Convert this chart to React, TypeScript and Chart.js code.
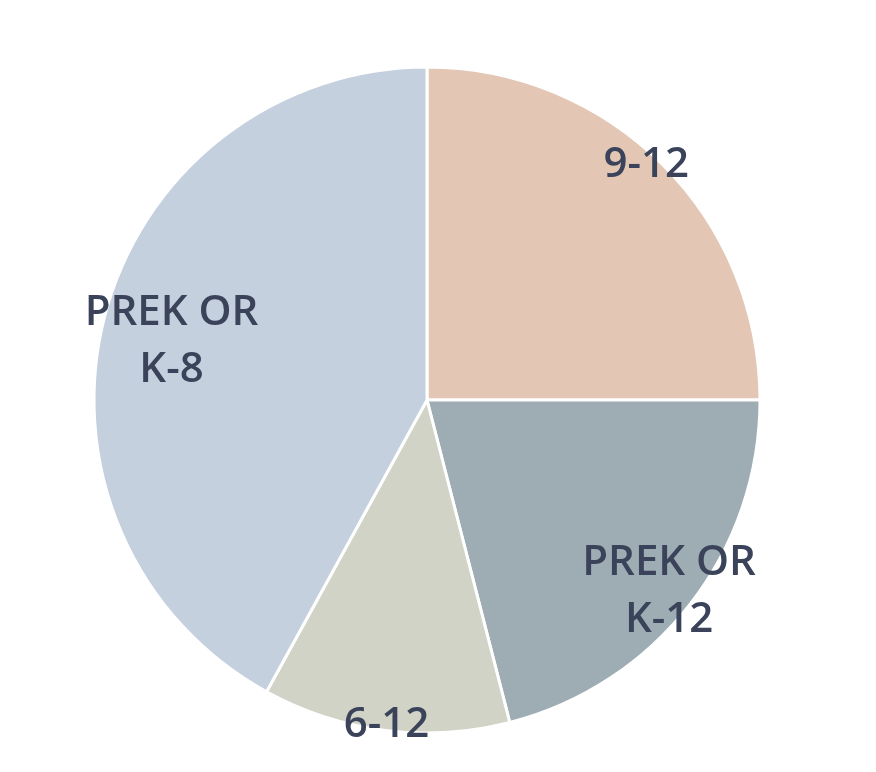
import React, { useEffect, useRef } from 'react';
import { Chart, registerables } from 'chart.js';

Chart.register(...registerables);

// slices, clockwise from the top
const labels = ['9-12', 'PREK OR\nK-12', '6-12', 'PREK OR\nK-8'];
const values = [25, 21, 12, 42];
const colors = ['#E3C6B4', '#9EADB4', '#D2D3C7', '#C4D0DE'];

// where each label sits: fraction of the radius, and a small turn (degrees) off the slice middle
const labelRadius = [0.973, 0.92, 0.972, 0.79];
const labelTurn = [-2.4, 0, 0, -0.6];

const sliceLabels = {
  id: 'sliceLabels',
  afterDatasetsDraw(chart: any) {
    const { ctx } = chart;
    const meta = chart.getDatasetMeta(0);
    ctx.save();
    ctx.font = '600 42px "Open Sans", sans-serif';
    ctx.fillStyle = '#3A4359';
    ctx.textAlign = 'center';
    ctx.textBaseline = 'middle';
    const lineHeight = 57;
    meta.data.forEach((arc: any, i: number) => {
      const { x, y, startAngle, endAngle, outerRadius } = arc.getProps(
        ['x', 'y', 'startAngle', 'endAngle', 'outerRadius'],
        true
      );
      const mid = (startAngle + endAngle) / 2 + (labelTurn[i] * Math.PI) / 180;
      const r = outerRadius * labelRadius[i];
      const cx = x + Math.cos(mid) * r;
      const cy = y + Math.sin(mid) * r + 4;
      const lines = labels[i].split('\n');
      const top = cy - ((lines.length - 1) * lineHeight) / 2;
      lines.forEach((line, j) => {
        ctx.fillText(line, cx, top + j * lineHeight);
      });
    });
    ctx.restore();
  },
};

export default function App() {
  const chartRef = useRef<HTMLCanvasElement | null>(null);

  useEffect(() => {
    if (!chartRef.current) return;
    const chart = new Chart(chartRef.current, {
      type: 'pie',
      data: {
        labels: labels.map((l) => l.replace('\n', ' ')),
        datasets: [
          {
            data: values,
            backgroundColor: colors,
            borderColor: '#ffffff',
            borderWidth: 3,
          },
        ],
      },
      options: {
        animation: false,
        responsive: true,
        maintainAspectRatio: false,
        radius: 333,
        layout: { padding: { top: 28, right: 22, bottom: 0, left: 0 } },
        plugins: {
          legend: { display: false },
          tooltip: { enabled: false },
        },
      },
      plugins: [sliceLabels],
    });
    return () => chart.destroy();
  }, []);

  return (
    <div style={{ width: '860px', height: '756px', position: 'relative' }}>
      <canvas ref={chartRef}></canvas>
    </div>
  );
}
